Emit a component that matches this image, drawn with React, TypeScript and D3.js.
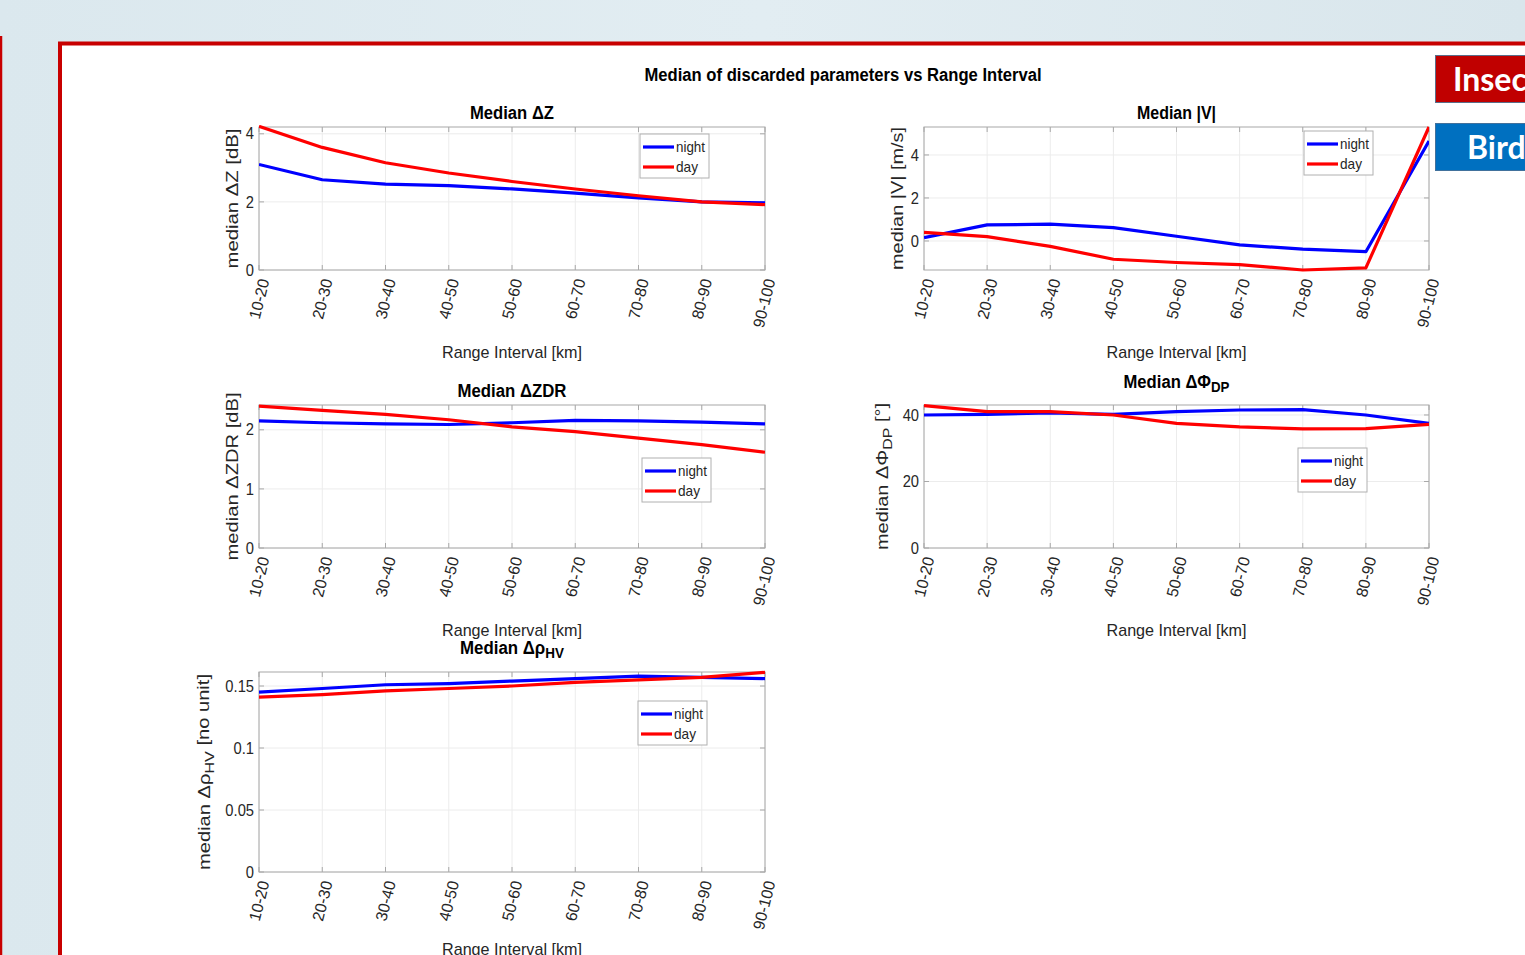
import React from "react";
import * as d3 from "d3";

const CATEGORIES = ["10-20", "20-30", "30-40", "40-50", "50-60", "60-70", "70-80", "80-90", "90-100"];
const SERIES = ["night", "day"];

const dzNight = [3.1, 2.65, 2.52, 2.48, 2.38, 2.26, 2.12, 2.0, 1.97];
const dzDay = [4.22, 3.6, 3.15, 2.85, 2.6, 2.38, 2.18, 2.0, 1.92];
const vNight = [0.15, 0.75, 0.78, 0.62, 0.22, -0.18, -0.38, -0.5, 4.65];
const vDay = [0.4, 0.2, -0.25, -0.85, -1.0, -1.1, -1.35, -1.25, 5.3];
const zdrNight = [2.15, 2.12, 2.1, 2.09, 2.12, 2.16, 2.15, 2.13, 2.1];
const zdrDay = [2.4, 2.33, 2.26, 2.17, 2.05, 1.97, 1.86, 1.75, 1.62];
const phiNight = [40.0, 40.2, 40.6, 40.2, 41.0, 41.5, 41.6, 40.0, 37.5];
const phiDay = [42.8, 41.0, 41.0, 40.0, 37.5, 36.4, 35.8, 35.9, 37.2];
const rhoNight = [0.145, 0.148, 0.151, 0.152, 0.154, 0.156, 0.158, 0.157, 0.156];
const rhoDay = [0.141, 0.143, 0.146, 0.148, 0.15, 0.153, 0.155, 0.157, 0.161];

const dzTicks = [0, 2, 4];
const vTicks = [0, 2, 4];
const zdrTicks = [0, 1, 2];
const phiTicks = [0, 20, 40];
const rhoTicks = [0, 0.05, 0.1, 0.15];

const FONT = "'Liberation Sans', Arial, Helvetica, sans-serif";
const INK = "#262626";
const BLUE = "#0000ff";
const RED = "#ff0000";

const Sub = ({ children }: { children: React.ReactNode }) => (
  <tspan dy="0.3em" fontSize="0.8em">{children}</tspan>
);

const panels = [
  {
    id: "dz", left: 259, right: 765, top: 127, bottom: 270, yDomain: [0, 4.2], ticks: dzTicks,
    night: dzNight, day: dzDay,
    title: <>Median ΔZ</>, titleW: 84, titleY: 119,
    ylabel: <>median  ΔZ [dB]</>, ylabelX: 238, ylabelW: 140,
    legend: [640, 134], rangeY: 358,
  },
  {
    id: "v", left: 924, right: 1429, top: 127, bottom: 270, yDomain: [-1.35, 5.3], ticks: vTicks,
    night: vNight, day: vDay,
    title: <>Median |V|</>, titleW: 79, titleY: 119,
    ylabel: <>median |V| [m/s]</>, ylabelX: 903, ylabelW: 143,
    legend: [1304, 131], rangeY: 358,
  },
  {
    id: "zdr", left: 259, right: 765, top: 405, bottom: 548, yDomain: [0, 2.42], ticks: zdrTicks,
    night: zdrNight, day: zdrDay,
    title: <>Median ΔZDR</>, titleW: 109, titleY: 397,
    ylabel: <>median  ΔZDR [dB]</>, ylabelX: 238, ylabelW: 168,
    legend: [642, 458], rangeY: 636,
  },
  {
    id: "phi", left: 924, right: 1429, top: 405, bottom: 548, yDomain: [0, 43], ticks: phiTicks,
    night: phiNight, day: phiDay,
    title: <>Median ΔΦ<Sub>DP</Sub></>, titleW: 106, titleY: 388,
    ylabel: <>median  ΔΦ<Sub>DP</Sub><tspan dy="-0.3em"> [°]</tspan></>, ylabelX: 888, ylabelW: 147,
    legend: [1298, 448], rangeY: 636,
  },
  {
    id: "rho", left: 259, right: 765, top: 672, bottom: 872, yDomain: [0, 0.1613], ticks: rhoTicks,
    night: rhoNight, day: rhoDay,
    title: <>Median Δρ<Sub>HV</Sub></>, titleW: 104, titleY: 654,
    ylabel: <>median  Δρ<Sub>HV</Sub><tspan dy="-0.3em"> [no unit]</tspan></>, ylabelX: 210, ylabelW: 196,
    legend: [638, 701], rangeY: 955,
  },
];

type P = (typeof panels)[number];

function Panel({ p }: { p: P }) {
  const x = d3.scalePoint<string>().domain(CATEGORIES).range([p.left, p.right]);
  const y = d3.scaleLinear().domain(p.yDomain).range([p.bottom, p.top]);
  const line = d3
    .line<number>()
    .x((_, i) => x(CATEGORIES[i]) as number)
    .y((d) => y(d));
  const cx = (p.left + p.right) / 2;
  const cy = (p.top + p.bottom) / 2;
  const [lx, ly] = p.legend;
  const box = "#a8a8a8";
  return (
    <g fontFamily={FONT}>
      <defs>
        <clipPath id={`clip-${p.id}`}>
          <rect x={p.left} y={p.top - 2} width={p.right - p.left} height={p.bottom - p.top + 4} />
        </clipPath>
      </defs>
      <rect x={p.left} y={p.top} width={p.right - p.left} height={p.bottom - p.top} fill="#fff" />
      {CATEGORIES.map((c) => (
        <line key={c} x1={x(c)} x2={x(c)} y1={p.top} y2={p.bottom} stroke="#ececec" />
      ))}
      {p.ticks.map((t) => (
        <line key={t} x1={p.left} x2={p.right} y1={y(t)} y2={y(t)} stroke="#ececec" />
      ))}
      {CATEGORIES.map((c) => (
        <g key={c}>
          <line x1={x(c)} x2={x(c)} y1={p.bottom} y2={p.bottom - 5} stroke={box} />
          <line x1={x(c)} x2={x(c)} y1={p.top} y2={p.top + 5} stroke={box} />
        </g>
      ))}
      {p.ticks.map((t) => (
        <g key={t}>
          <line x1={p.left} x2={p.left + 5} y1={y(t)} y2={y(t)} stroke={box} />
          <line x1={p.right} x2={p.right - 5} y1={y(t)} y2={y(t)} stroke={box} />
        </g>
      ))}
      <rect x={p.left} y={p.top} width={p.right - p.left} height={p.bottom - p.top} fill="none" stroke={box} />
      <g clipPath={`url(#clip-${p.id})`}>
        <path d={line(p.night) || ""} fill="none" stroke={BLUE} strokeWidth={3.2} strokeLinejoin="round" />
        <path d={line(p.day) || ""} fill="none" stroke={RED} strokeWidth={3.2} strokeLinejoin="round" />
      </g>
      {p.ticks.map((t) => (
        <text key={t} x={p.left - 5} y={y(t)} dy="0.35em" textAnchor="end" fontSize={16} fill={INK}
          transform={`translate(${p.left - 5},0) scale(0.92,1) translate(${-(p.left - 5)},0)`}>
          {String(t)}
        </text>
      ))}
      {CATEGORIES.map((c) => (
        <text
          key={c}
          transform={`translate(${(x(c) as number) + 5},${p.bottom + 9}) rotate(-76)`}
          dy="0.35em"
          textAnchor="end"
          fontSize={16}
          fill={INK}
        >
          {c}
        </text>
      ))}
      <text x={cx} y={p.rangeY} textAnchor="middle" fontSize={17} fill={INK} textLength={140} lengthAdjust="spacingAndGlyphs">
        Range Interval [km]
      </text>
      <text x={cx} y={p.titleY} textAnchor="middle" fontSize={18} fontWeight="bold" fill="#000" textLength={p.titleW} lengthAdjust="spacingAndGlyphs">
        {p.title}
      </text>
      <text
        transform={`translate(${p.ylabelX},${cy}) rotate(-90)`}
        textAnchor="middle"
        fontSize={17}
        fill={INK}
        textLength={p.ylabelW}
        lengthAdjust="spacingAndGlyphs"
      >
        {p.ylabel}
      </text>
      <g>
        <rect x={lx} y={ly} width={69} height={44} fill="#fff" stroke="#b0b0b0" />
        {SERIES.map((s, i) => (
          <g key={s}>
            <line x1={lx + 3} x2={lx + 34} y1={ly + 13 + i * 20} y2={ly + 13 + i * 20} stroke={i === 0 ? BLUE : RED} strokeWidth={3.2} />
            <text x={lx + 36} y={ly + 13 + i * 20} dy="0.35em" fontSize={15} fill={INK}
              textLength={s === "night" ? 29 : 22} lengthAdjust="spacingAndGlyphs">
              {s}
            </text>
          </g>
        ))}
      </g>
    </g>
  );
}

export default function App() {
  return (
    <svg width={1525} height={955} style={{ position: "absolute", left: 0, top: 0 }}>
      <defs>
        <linearGradient id="bg" x1="0" y1="0" x2="1" y2="0">
          <stop offset="0" stopColor="#dbe8ee" />
          <stop offset="0.5" stopColor="#e2edf2" />
          <stop offset="1" stopColor="#d9e6ec" />
        </linearGradient>
      </defs>
      <rect x={0} y={0} width={1525} height={955} fill="url(#bg)" />
      <line x1={1} x2={1} y1={36} y2={955} stroke="#c80000" strokeWidth={2.5} />
      <rect x={60} y={43.5} width={1500} height={1000} fill="#fff" stroke="#c80000" strokeWidth={4} />
      <text x={843} y={81} textAnchor="middle" fontFamily={FONT} fontWeight="bold" fontSize={18} textLength={397} lengthAdjust="spacingAndGlyphs">
        Median of discarded parameters vs Range Interval
      </text>
      {panels.map((p) => (
        <Panel key={p.id} p={p} />
      ))}
      <rect x={1435.5} y={55.5} width={100} height={47} fill="#c00000" stroke="#5a6e8a" />
      <text x={1453} y={91} fontFamily="Lato, 'Open Sans', sans-serif" fontWeight="bold" fontSize={32} fill="#fff">
        Insec
      </text>
      <rect x={1435.5} y={123.5} width={100} height={47} fill="#0070c0" stroke="#41719c" />
      <text x={1467} y={159} fontFamily="Lato, 'Open Sans', sans-serif" fontWeight="bold" fontSize={32} fill="#fff">
        Bird
      </text>
    </svg>
  );
}
